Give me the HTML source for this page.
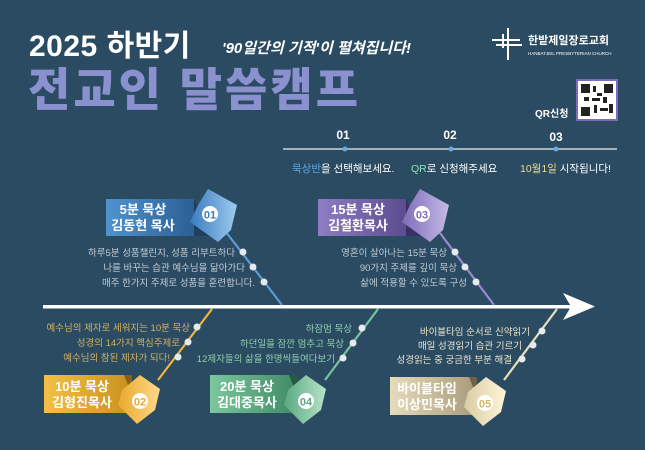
<!DOCTYPE html>
<html><head><meta charset="utf-8"><style>
html,body{margin:0;padding:0;background:#2a4b62;}
svg{display:block}
text{font-family:"Liberation Sans","Noto Sans CJK KR",sans-serif;}
</style></head><body>
<svg width="645" height="450" viewBox="0 0 645 450" xmlns="http://www.w3.org/2000/svg">
<defs>
<linearGradient id="gb" x1="0" x2="1"><stop offset="0" stop-color="#4f93cf"/><stop offset="1" stop-color="#2c5f95"/></linearGradient>
<linearGradient id="hb" x1="0" x2="1"><stop offset="0" stop-color="#3a7bc0"/><stop offset="1" stop-color="#9ccbef"/></linearGradient>
<linearGradient id="gp" x1="0" x2="1"><stop offset="0" stop-color="#8f7dc4"/><stop offset="1" stop-color="#5b4c8f"/></linearGradient>
<linearGradient id="hp" x1="0" x2="1"><stop offset="0" stop-color="#7e6cb8"/><stop offset="1" stop-color="#c5b9e6"/></linearGradient>
<linearGradient id="go" x1="0" x2="1"><stop offset="0" stop-color="#f2c044"/><stop offset="1" stop-color="#c98f1e"/></linearGradient>
<linearGradient id="ho" x1="0" x2="1"><stop offset="0" stop-color="#e9a92c"/><stop offset="1" stop-color="#ffd98a"/></linearGradient>
<linearGradient id="gg" x1="0" x2="1"><stop offset="0" stop-color="#7cc79c"/><stop offset="1" stop-color="#3f8a66"/></linearGradient>
<linearGradient id="hg" x1="0" x2="1"><stop offset="0" stop-color="#5aa882"/><stop offset="1" stop-color="#b8e3c8"/></linearGradient>
<linearGradient id="gc" x1="0" x2="1"><stop offset="0" stop-color="#e6dcbc"/><stop offset="1" stop-color="#a8997a"/></linearGradient>
<linearGradient id="hc" x1="0" x2="1"><stop offset="0" stop-color="#d8cca4"/><stop offset="1" stop-color="#fff6d8"/></linearGradient>
</defs>

<!-- header -->
<text x="29" y="56" font-size="30" font-weight="bold" fill="#fff" letter-spacing="0.5">2025 하반기</text>
<text x="222" y="53" font-size="15" font-style="italic" font-weight="bold" fill="#fff">'90일간의 기적'이 펼쳐집니다!</text>
<text x="28" y="106" font-size="46" font-weight="900" fill="#8b91cf" letter-spacing="3">전교인 말씀캠프</text>

<!-- logo -->
<g stroke="#fff" stroke-width="2">
<line x1="508" y1="28" x2="508" y2="60"/><line x1="503" y1="34" x2="503" y2="48"/>
<line x1="492" y1="40" x2="520" y2="40"/><line x1="496" y1="45" x2="522" y2="45"/>
</g>
<text x="528" y="44" font-size="11" font-weight="bold" fill="#fff">한밭제일장로교회</text>
<text x="528" y="55" font-size="4.5" fill="#fff">HANBATJEIL PRESBYTERIAN CHURCH</text>

<!-- QR -->
<rect x="577" y="80" width="40" height="40" fill="#fff" stroke="#7b6cc0" stroke-width="2"/>
<g fill="#222">
<rect x="581" y="84" width="9" height="9"/><rect x="604" y="84" width="9" height="9"/><rect x="581" y="107" width="9" height="9"/>
<rect x="593" y="86" width="3" height="6"/><rect x="597" y="93" width="5" height="3"/><rect x="592" y="98" width="8" height="3"/>
<rect x="603" y="97" width="4" height="6"/><rect x="594" y="105" width="3" height="8"/><rect x="600" y="108" width="8" height="3"/>
<rect x="609" y="104" width="4" height="9"/><rect x="584" y="97" width="5" height="4"/>
</g>
<text x="535" y="117" font-size="10" font-weight="bold" fill="#fff">QR신청</text>

<!-- timeline -->
<line x1="283" y1="149" x2="617" y2="149" stroke="#c9d3dc" stroke-width="1.5"/>
<g fill="#6aa8e0"><circle cx="345" cy="149" r="2.5"/><circle cx="451" cy="149" r="2.5"/><circle cx="556" cy="149" r="2.5"/></g>
<g font-size="12" font-weight="bold" fill="#fff" text-anchor="middle">
<text x="343" y="139">01</text><text x="450" y="139">02</text><text x="556" y="141">03</text></g>
<g font-size="10.5"><text x="292" y="172" fill="#fff"><tspan fill="#5aa7e8">묵상반</tspan>을 선택해보세요.</text>
<text x="411" y="172" fill="#fff"><tspan fill="#8fe0b8">QR</tspan>로 신청해주세요</text>
<text x="520" y="172" fill="#fff"><tspan fill="#f1d890">10월1일</tspan> 시작됩니다!</text></g>

<!-- main arrow -->
<rect x="43" y="305" width="530" height="3.5" fill="#fff"/>
<polygon points="563,293 595,306.5 563,320 571,306.5" fill="#fff"/>

<!-- bones -->
<g stroke-width="2.2">
<line x1="226" y1="232" x2="282" y2="305" stroke="#5b9bd8"/>
<line x1="440" y1="233" x2="494" y2="305" stroke="#9b8bd0"/>
<line x1="212" y1="309" x2="158" y2="380" stroke="#f0b53a"/>
<line x1="378" y1="309" x2="325" y2="380" stroke="#79c49c"/>
<line x1="557" y1="309" x2="504" y2="380" stroke="#e8dfb6"/>
</g>
<g fill="#e6eaee">
<circle cx="243" cy="252" r="3.5"/><circle cx="253" cy="267" r="3.5"/><circle cx="264" cy="282" r="3.5"/>
<circle cx="455" cy="252" r="3.5"/><circle cx="465" cy="267" r="3.5"/><circle cx="476" cy="282" r="3.5"/>
<circle cx="197" cy="327" r="3.5"/><circle cx="188" cy="342" r="3.5"/><circle cx="178" cy="357" r="3.5"/>
<circle cx="362" cy="328" r="3.5"/><circle cx="353" cy="343" r="3.5"/><circle cx="343" cy="358" r="3.5"/>
<circle cx="542" cy="331" r="3.5"/><circle cx="533" cy="345" r="3.5"/><circle cx="522" cy="359" r="3.5"/>
</g>

<g font-size="9.5" text-anchor="end">
<g fill="#c3ccd5">
<text x="235" y="256">하루5분 성품챌린지, 성품 리부트하다</text>
<text x="245" y="271">나를 바꾸는 습관 예수님을 닮아가다</text>
<text x="255" y="286">매주 한가지 주제로 성품을 훈련합니다.</text>
<text x="447" y="256">영혼이 살아나는 15분 묵상</text>
<text x="457" y="271">90가지 주제를 깊이 묵상</text>
<text x="467" y="286">삶에 적용할 수 있도록 구성</text>
</g>
<g fill="#d6b15b">
<text x="190" y="331">예수님의 제자로 세워지는 10분 묵상</text>
<text x="180" y="346">성경의 14가지 핵심주제로</text>
<text x="170" y="361">예수님의 참된 제자가 되다!</text>
</g>
<g fill="#8fd0ac">
<text x="352" y="332">하잠멈 묵상</text>
<text x="344" y="347">하던일을 잠깐 멈추고 묵상</text>
<text x="335" y="362">12제자들의 삶을 한명씩들여다보기</text>
</g>
<g fill="#ece6cc">
<text x="530" y="335">바이블타임 순서로 신약읽기</text>
<text x="522" y="349">매일 성경읽기 습관 기르기</text>
<text x="512" y="363">성경읽는 중 궁금한 부분 해결</text>
</g>
</g>

<!-- boxes top -->
<g>
<rect x="106" y="199" width="88" height="37" fill="url(#gb)"/>
<polygon points="194,199 194,236 212,236" fill="#1f3f60"/>
<polygon points="208,189 237,205 231,230 218,242 190,222 198,205" fill="url(#hb)"/>
<circle cx="210" cy="214" r="8" fill="#fff"/><text x="210" y="218.5" font-size="11" font-weight="bold" fill="#3a7bc0" text-anchor="middle">01</text>
<text x="143" y="214" font-size="13" font-weight="bold" fill="#fff" text-anchor="middle">5분 묵상</text>
<text x="143" y="230" font-size="13" font-weight="bold" fill="#fff" text-anchor="middle">김동현 목사</text>
</g>
<g>
<rect x="318" y="199" width="88" height="37" fill="url(#gp)"/>
<polygon points="406,199 406,236 424,236" fill="#3b3065"/>
<polygon points="420,189 449,205 443,230 430,242 402,222 410,205" fill="url(#hp)"/>
<circle cx="422" cy="214" r="8" fill="#fff"/><text x="422" y="218.5" font-size="11" font-weight="bold" fill="#7e6cb8" text-anchor="middle">03</text>
<text x="358" y="214" font-size="13" font-weight="bold" fill="#fff" text-anchor="middle">15분 묵상</text>
<text x="358" y="230" font-size="13" font-weight="bold" fill="#fff" text-anchor="middle">김철환목사</text>
</g>
<!-- boxes bottom -->
<g>
<rect x="44" y="375" width="88" height="38" fill="url(#go)"/>
<polygon points="124,375 132,375 132,395" fill="#8a6014"/>
<polygon points="140,375 160,389 155,410 137,424 118,405 122,390" fill="url(#ho)"/>
<circle cx="140" cy="401" r="8" fill="#fff"/><text x="140" y="405.5" font-size="11" font-weight="bold" fill="#e9a92c" text-anchor="middle">02</text>
<text x="82" y="391" font-size="13" font-weight="bold" fill="#fff" text-anchor="middle">10분 묵상</text>
<text x="82" y="407" font-size="13" font-weight="bold" fill="#fff" text-anchor="middle">김형진목사</text>
</g>
<g>
<rect x="210" y="375" width="87" height="38" fill="url(#gg)"/>
<polygon points="289,375 297,375 297,395" fill="#245a40"/>
<polygon points="306,375 326,389 321,410 303,424 284,405 288,390" fill="url(#hg)"/>
<circle cx="306" cy="401" r="8" fill="#fff"/><text x="306" y="405.5" font-size="11" font-weight="bold" fill="#5aa882" text-anchor="middle">04</text>
<text x="247" y="391" font-size="13" font-weight="bold" fill="#fff" text-anchor="middle">20분 묵상</text>
<text x="247" y="407" font-size="13" font-weight="bold" fill="#fff" text-anchor="middle">김대중목사</text>
</g>
<g>
<rect x="390" y="377" width="87" height="38" fill="url(#gc)"/>
<polygon points="469,377 477,377 477,397" fill="#6e6248"/>
<polygon points="486,377 506,391 501,412 483,426 464,407 468,392" fill="url(#hc)"/>
<circle cx="485" cy="403" r="8" fill="#fff"/><text x="485" y="407.5" font-size="11" font-weight="bold" fill="#d4b860" text-anchor="middle">05</text>
<text x="427" y="393" font-size="13" font-weight="bold" fill="#fff" text-anchor="middle">바이블타임</text>
<text x="427" y="409" font-size="13" font-weight="bold" fill="#fff" text-anchor="middle">이상민목사</text>
</g>
</svg>
</body></html>
